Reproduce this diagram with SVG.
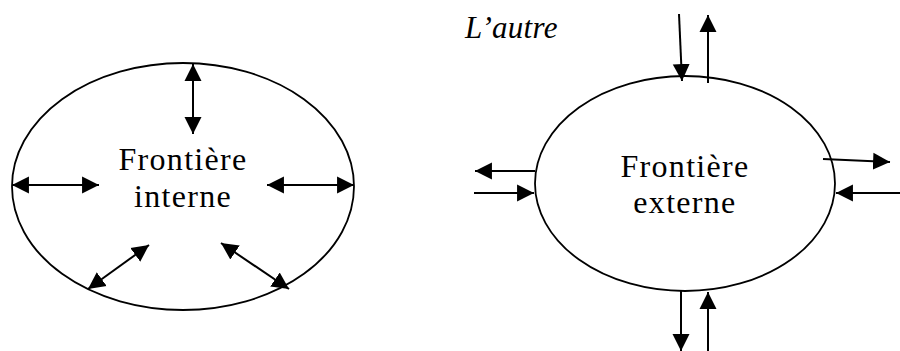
<svg xmlns="http://www.w3.org/2000/svg" width="900" height="351" viewBox="0 0 900 351">
<style>
.shape{fill:none;stroke:#000;stroke-width:1.8}
.conn{fill:none;stroke:#000;stroke-width:2}
.lbl{font-family:"Liberation Serif","DejaVu Serif",serif;font-size:32px;letter-spacing:1.3px;fill:#000;text-anchor:middle}
.it{font-family:"Liberation Serif","DejaVu Serif",serif;font-size:31px;font-style:italic;letter-spacing:0.3px;fill:#000}
</style>
<defs>
<marker id="ah" markerUnits="userSpaceOnUse" markerWidth="18" markerHeight="18" refX="16" refY="8" orient="auto-start-reverse" viewBox="0 0 17 16">
<path d="M0,0 L16,8 L0,16 z" fill="#000"/>
</marker>
</defs>
<rect width="900" height="351" fill="#fff"/>
<g id="interne">
<ellipse class="shape" cx="183" cy="186.5" rx="171" ry="123.5"/>
<text class="lbl" x="183" y="170">Frontière</text>
<text class="lbl" x="183" y="207">interne</text>
</g>
<g id="externe">
<ellipse class="shape" cx="685" cy="183.5" rx="150" ry="107.5"/>
<text class="lbl" x="685" y="177">Frontière</text>
<text class="lbl" x="685" y="213">externe</text>
</g>
<g id="autre">
<text class="it" x="465" y="38">L’autre</text>
</g>
<g id="connectors">
<line class="conn" x1="193" y1="64" x2="193" y2="134" marker-start="url(#ah)" marker-end="url(#ah)"/>
<line class="conn" x1="12" y1="185" x2="99" y2="185" marker-start="url(#ah)" marker-end="url(#ah)"/>
<line class="conn" x1="267" y1="185" x2="354" y2="185" marker-start="url(#ah)" marker-end="url(#ah)"/>
<line class="conn" x1="88" y1="289" x2="149" y2="245" marker-start="url(#ah)" marker-end="url(#ah)"/>
<line class="conn" x1="221" y1="243" x2="289" y2="289" marker-start="url(#ah)" marker-end="url(#ah)"/>
<line class="conn" x1="679" y1="14" x2="682" y2="81" marker-end="url(#ah)"/>
<line class="conn" x1="708" y1="83" x2="708" y2="15" marker-end="url(#ah)"/>
<line class="conn" x1="681" y1="290" x2="681" y2="351" marker-end="url(#ah)"/>
<line class="conn" x1="708" y1="351" x2="708" y2="292" marker-end="url(#ah)"/>
<line class="conn" x1="535" y1="171" x2="475" y2="171" marker-end="url(#ah)"/>
<line class="conn" x1="474" y1="193" x2="534" y2="193" marker-end="url(#ah)"/>
<line class="conn" x1="823" y1="159" x2="890" y2="162" marker-end="url(#ah)"/>
<line class="conn" x1="900" y1="193" x2="836" y2="193" marker-end="url(#ah)"/>
</g>
</svg>
